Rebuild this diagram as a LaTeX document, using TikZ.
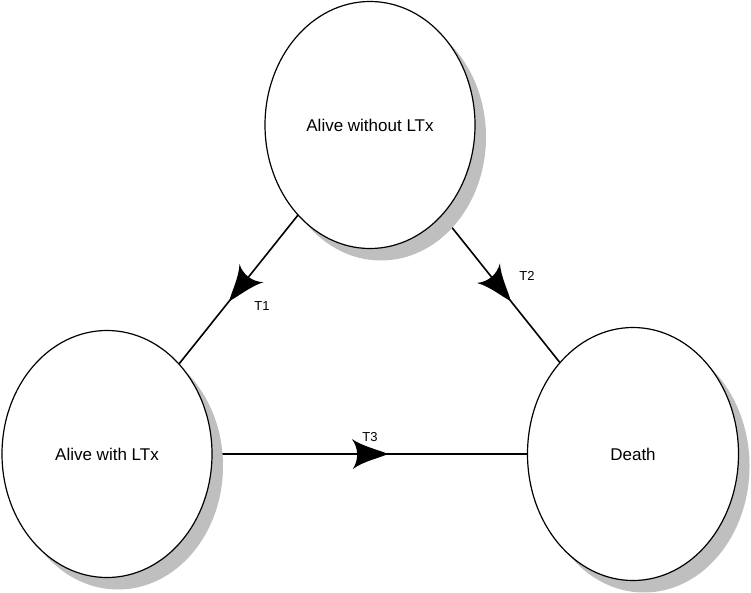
\documentclass[tikz,border=0pt]{standalone}
\usepackage{fontspec}
\setmainfont{Liberation Sans}
\usetikzlibrary{shapes.geometric,shadows,decorations.markings,backgrounds}
\begin{document}
\begin{tikzpicture}[x=1pt,y=-1pt,
  state/.style={ellipse, draw=black, line width=1.2pt, fill=white,
    minimum width=210pt, minimum height=247pt, inner sep=0pt,
    font=\fontsize{17}{20}\selectfont,
    drop shadow={shadow xshift=11pt, shadow yshift=-12pt, fill=black!25, opacity=1, draw=none}},
  lbl/.style={font=\fontsize{13}{15}\selectfont},
  trans/.style={line width=1.6pt, postaction={decorate},
    decoration={markings, mark=at position 0.53 with {
      \fill[black] (2,0) .. controls (-6,-4) and (-22,-7) .. (-34,-15)
        .. controls (-27,-6) and (-27,6) .. (-33,15)
        .. controls (-22,7) and (-6,4) .. (2,0) -- cycle;}}}
]
\useasboundingbox (0,0) rectangle (751,593);
\node[state] (top) at (370,125) {Alive without LTx};
\node[state] (left) at (107,454) {Alive with LTx};
\node[state, minimum width=211pt, minimum height=253pt] (right) at (633,454) {Death};
\begin{scope}[on background layer]
  \draw[trans] (top.center) -- (left.center);
  \draw[trans] (top.center) -- (right.center);
  \draw[trans] (left.center) -- (right.center);
\end{scope}
\node[lbl] (t1) at (262,306) {T1};
\node[lbl] (t2) at (527,276) {T2};
\node[lbl] (t3) at (370,437) {T3};
\end{tikzpicture}
\end{document}
